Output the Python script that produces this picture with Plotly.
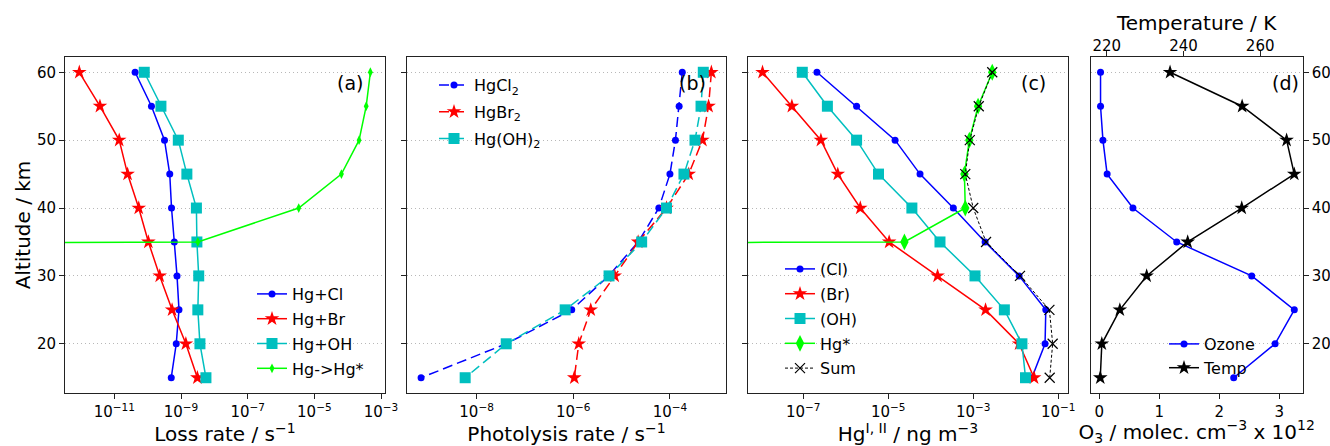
import plotly.graph_objects as go

W, H = 1330, 446

altitude = [60, 55, 50, 45, 40, 35, 30, 25, 20, 15]

# (a) loss rates / s-1
loss_cl = [4.2e-11, 1.3e-10, 3.2e-10, 4.6e-10, 5.2e-10, 6.3e-10, 7.6e-10, 8.7e-10, 7.2e-10, 5.1e-10]
loss_br = [8.9e-13, 3.7e-12, 1.4e-11, 2.5e-11, 5.4e-11, 1.05e-10, 2.3e-10, 5.4e-10, 1.4e-9, 3.1e-9]
loss_oh = [7.9e-11, 2.5e-10, 8.3e-10, 1.5e-9, 2.9e-9, 3.0e-9, 3.4e-9, 3.2e-9, 3.7e-9, 5.6e-9]
loss_hgstar = [4.8e-4, 3.6e-4, 2.2e-4, 6.5e-5, 3.4e-6, 3.2e-9, 0, 0, 0, 0]

# (b) photolysis rates / s-1
phot_hgcl2 = [1.8e-4, 1.55e-4, 1.3e-4, 1.0e-4, 5.9e-5, 2.2e-5, 5.4e-6, 9.3e-7, 4.1e-8, 7.1e-10]
phot_hgbr2 = [7.2e-4, 6.3e-4, 4.7e-4, 2.45e-4, 8.5e-5, 2.2e-5, 7.2e-6, 2.3e-6, 1.3e-6, 1.05e-6]
phot_hgoh2 = [4.9e-4, 4.4e-4, 3.3e-4, 1.95e-4, 8.5e-5, 2.6e-5, 5.5e-6, 6.8e-7, 4.1e-8, 5.8e-9]

# (c) Hg(I,II) / ng m-3
conc_cl = [2.1e-7, 1.8e-6, 1.45e-5, 5.6e-5, 3.4e-4, 1.9e-3, 1.2e-2, 5.1e-2, 4.9e-2, 2.4e-2]
conc_br = [1.1e-8, 5.4e-8, 2.6e-7, 6.5e-7, 2.2e-6, 1.05e-5, 1.45e-4, 1.95e-3, 1.2e-2, 2.7e-2]
conc_oh = [9.5e-8, 3.7e-7, 1.8e-6, 5.9e-6, 3.6e-5, 1.65e-4, 1.1e-3, 5.4e-3, 1.4e-2, 1.7e-2]
conc_hgstar = [2.8e-3, 1.3e-3, 8.1e-4, 6.2e-4, 6.5e-4, 2.4e-5, 0, 0, 0, 0]
conc_sum = [2.8e-3, 1.35e-3, 8.3e-4, 6.5e-4, 1.0e-3, 2.0e-3, 1.26e-2, 6.2e-2, 7.4e-2, 6.3e-2]

# (d) ozone (x 1e12 molec cm-3) and temperature (K)
ozone = [0.02, 0.02, 0.06, 0.13, 0.56, 1.29, 2.54, 3.25, 2.93, 2.24]
temperature = [236.5, 255.3, 266.9, 268.9, 255.2, 241.1, 230.4, 223.4, 218.7, 218.3]


def logclip(vals):
    # mimic matplotlib's log-scale clipping of non-positive values
    return [v if v > 0 else 1e-300 for v in vals]


FONT = "DejaVu Sans"
BLUE, RED, CYAN, GREEN, BLACK = "#0000ff", "#ff0000", "#00bfbf", "#00ff00", "#000000"
FRAME = "#222222"

fig = go.Figure()


def add(x, y, name, color, symbol, size, xa, ya, legend, dash="solid", width=1.5, mline=0):
    fig.add_trace(go.Scatter(
        x=x, y=y, name=name, mode="lines+markers", xaxis=xa, yaxis=ya,
        legend=legend, legendgroup=name + xa,
        line=dict(color=color, width=width, dash=dash),
        marker=dict(color=color, symbol=symbol, size=size,
                    line=dict(color=color, width=mline)),
    ))


# (a)
add(logclip(loss_cl), altitude, "Hg+Cl", BLUE, "circle", 7, "x", "y", "legend")
add(logclip(loss_br), altitude, "Hg+Br", RED, "star", 11, "x", "y", "legend")
add(logclip(loss_oh), altitude, "Hg+OH", CYAN, "square", 11, "x", "y", "legend")
add(logclip(loss_hgstar), altitude, "Hg->Hg*", GREEN, "diamond-tall", 7, "x", "y", "legend")

# (b)
DASHB = "10px,5px"
add(logclip(phot_hgcl2), altitude, "HgCl<sub>2</sub>", BLUE, "circle", 7, "x2", "y2", "legend2", dash=DASHB)
add(logclip(phot_hgbr2), altitude, "HgBr<sub>2</sub>", RED, "star", 11, "x2", "y2", "legend2", dash=DASHB)
add(logclip(phot_hgoh2), altitude, "Hg(OH)<sub>2</sub>", CYAN, "square", 11, "x2", "y2", "legend2", dash=DASHB)

# (c)
add(logclip(conc_cl), altitude, "(Cl)", BLUE, "circle", 7, "x3", "y3", "legend3")
add(logclip(conc_br), altitude, "(Br)", RED, "star", 11, "x3", "y3", "legend3")
add(logclip(conc_oh), altitude, "(OH)", CYAN, "square", 11, "x3", "y3", "legend3")
add(logclip(conc_hgstar), altitude, "Hg*", GREEN, "diamond-tall", 12, "x3", "y3", "legend3")
add(logclip(conc_sum), altitude, "Sum", BLACK, "x-thin-open", 10, "x3", "y3", "legend3",
    dash="3px,2px", width=1, mline=1.2)

# (d)
add(ozone, altitude, "Ozone", BLUE, "circle", 7, "x4", "y4", "legend4")
add(temperature, altitude, "Temp", BLACK, "star", 11, "x5", "y4", "legend4")

ydom = [1 - 393 / H, 1 - 57 / H]
doms = {
    "a": [65 / W, 385 / W],
    "b": [407 / W, 726 / W],
    "c": [748 / W, 1068 / W],
    "d": [1090.7 / W, 1302.7 / W],
}

tickfont = dict(family=FONT, size=15, color="black")
titlefont = dict(family=FONT, size=20, color="black")


def sup(n):
    return "10<sup>\u2212%d</sup>" % n


common_x = dict(showline=True, linecolor=FRAME, linewidth=1, mirror=True, automargin=False,
                ticks="outside", ticklen=5, tickcolor=FRAME, showgrid=False,
                zeroline=False, tickfont=tickfont, title_font=titlefont)
common_y = dict(showline=True, linecolor=FRAME, linewidth=1, mirror=True, automargin=False,
                ticks="outside", ticklen=5, tickcolor=FRAME, range=[12.75, 62.25],
                tickvals=[20, 30, 40, 50, 60], showgrid=True, gridcolor="#b8b8b8",
                griddash="1px,3px", gridwidth=1, zeroline=False, tickfont=tickfont,
                title_font=titlefont)

fig.update_layout(
    width=W, height=H, margin=dict(l=0, r=0, t=0, b=0, autoexpand=False),
    paper_bgcolor="white", plot_bgcolor="white",
    font=dict(family=FONT, color="black"),
    xaxis=dict(common_x, domain=doms["a"], anchor="y", type="log", range=[-12.48, -2.88],
               tickvals=[1e-11, 1e-9, 1e-7, 1e-5, 1e-3],
               ticktext=[sup(11), sup(9), sup(7), sup(5), sup(3)],
               title=dict(text="Loss rate / s<sup>\u22121</sup>", standoff=6)),
    xaxis2=dict(common_x, domain=doms["b"], anchor="y2", type="log", range=[-9.44, -2.84],
                tickvals=[1e-8, 1e-6, 1e-4], ticktext=[sup(8), sup(6), sup(4)],
                title=dict(text="Photolysis rate / s<sup>\u22121</sup>", standoff=6)),
    xaxis3=dict(common_x, domain=doms["c"], anchor="y3", type="log", range=[-8.3, -0.77],
                tickvals=[1e-7, 1e-5, 1e-3, 1e-1],
                ticktext=[sup(7), sup(5), sup(3), sup(1)],
                title=dict(text="Hg<sup>I, II</sup> / ng m<sup>\u22123</sup>", standoff=6)),
    xaxis4=dict(common_x, domain=doms["d"], anchor="y4", range=[-0.144, 3.39],
                tickvals=[0, 1, 2, 3],
                title=dict(text="O<sub>3</sub> / molec. cm<sup>\u22123</sup> x 10<sup>12</sup>",
                           standoff=6)),
    xaxis5=dict(overlaying="x4", anchor="y4", side="top", range=[215.8, 271.1],
                tickvals=[220, 240, 260], ticks="outside", ticklen=5, tickcolor=FRAME,
                automargin=False, showgrid=False, zeroline=False, showline=False,
                tickfont=tickfont, ticklabelstandoff=-6),
    yaxis=dict(common_y, domain=ydom, anchor="x",
               title=dict(text="Altitude / km", standoff=0)),
    yaxis2=dict(common_y, domain=ydom, anchor="x2", showticklabels=False),
    yaxis3=dict(common_y, domain=ydom, anchor="x3", showticklabels=False),
    yaxis4=dict(common_y, domain=ydom, anchor="x4", side="right"),
)

# title of the top (temperature) axis
fig.add_annotation(text="Temperature / K", x=1196.7 / W, y=1 - 23 / H, xref="paper",
                   yref="paper", showarrow=False, font=titlefont,
                   xanchor="center", yanchor="middle")

legfont = dict(family=FONT, size=16, color="black")


def leg(x_px, y_px, gap):
    return dict(x=x_px / W, y=1 - y_px / H, xanchor="left", yanchor="top",
                bgcolor="rgba(0,0,0,0)", borderwidth=0, font=legfont,
                tracegroupgap=gap, itemwidth=30)


fig.update_layout(
    legend=leg(252, 277, 1),
    legend2=leg(434, 68, 3),
    legend3=leg(780, 252, 1),
    legend4=leg(1164, 327, 0),
)

for txt, xp in [("(a)", 350), ("(b)", 693), ("(c)", 1033), ("(d)", 1285)]:
    fig.add_annotation(text=txt, x=xp / W, y=1 - 83 / H, xref="paper", yref="paper",
                       showarrow=False, font=dict(family=FONT, size=19, color="black"),
                       xanchor="center", yanchor="middle")

fig.write_html("out.html", config={"displayModeBar": False},
               post_script="document.body.style.margin='0px';document.body.style.overflow='hidden';")
